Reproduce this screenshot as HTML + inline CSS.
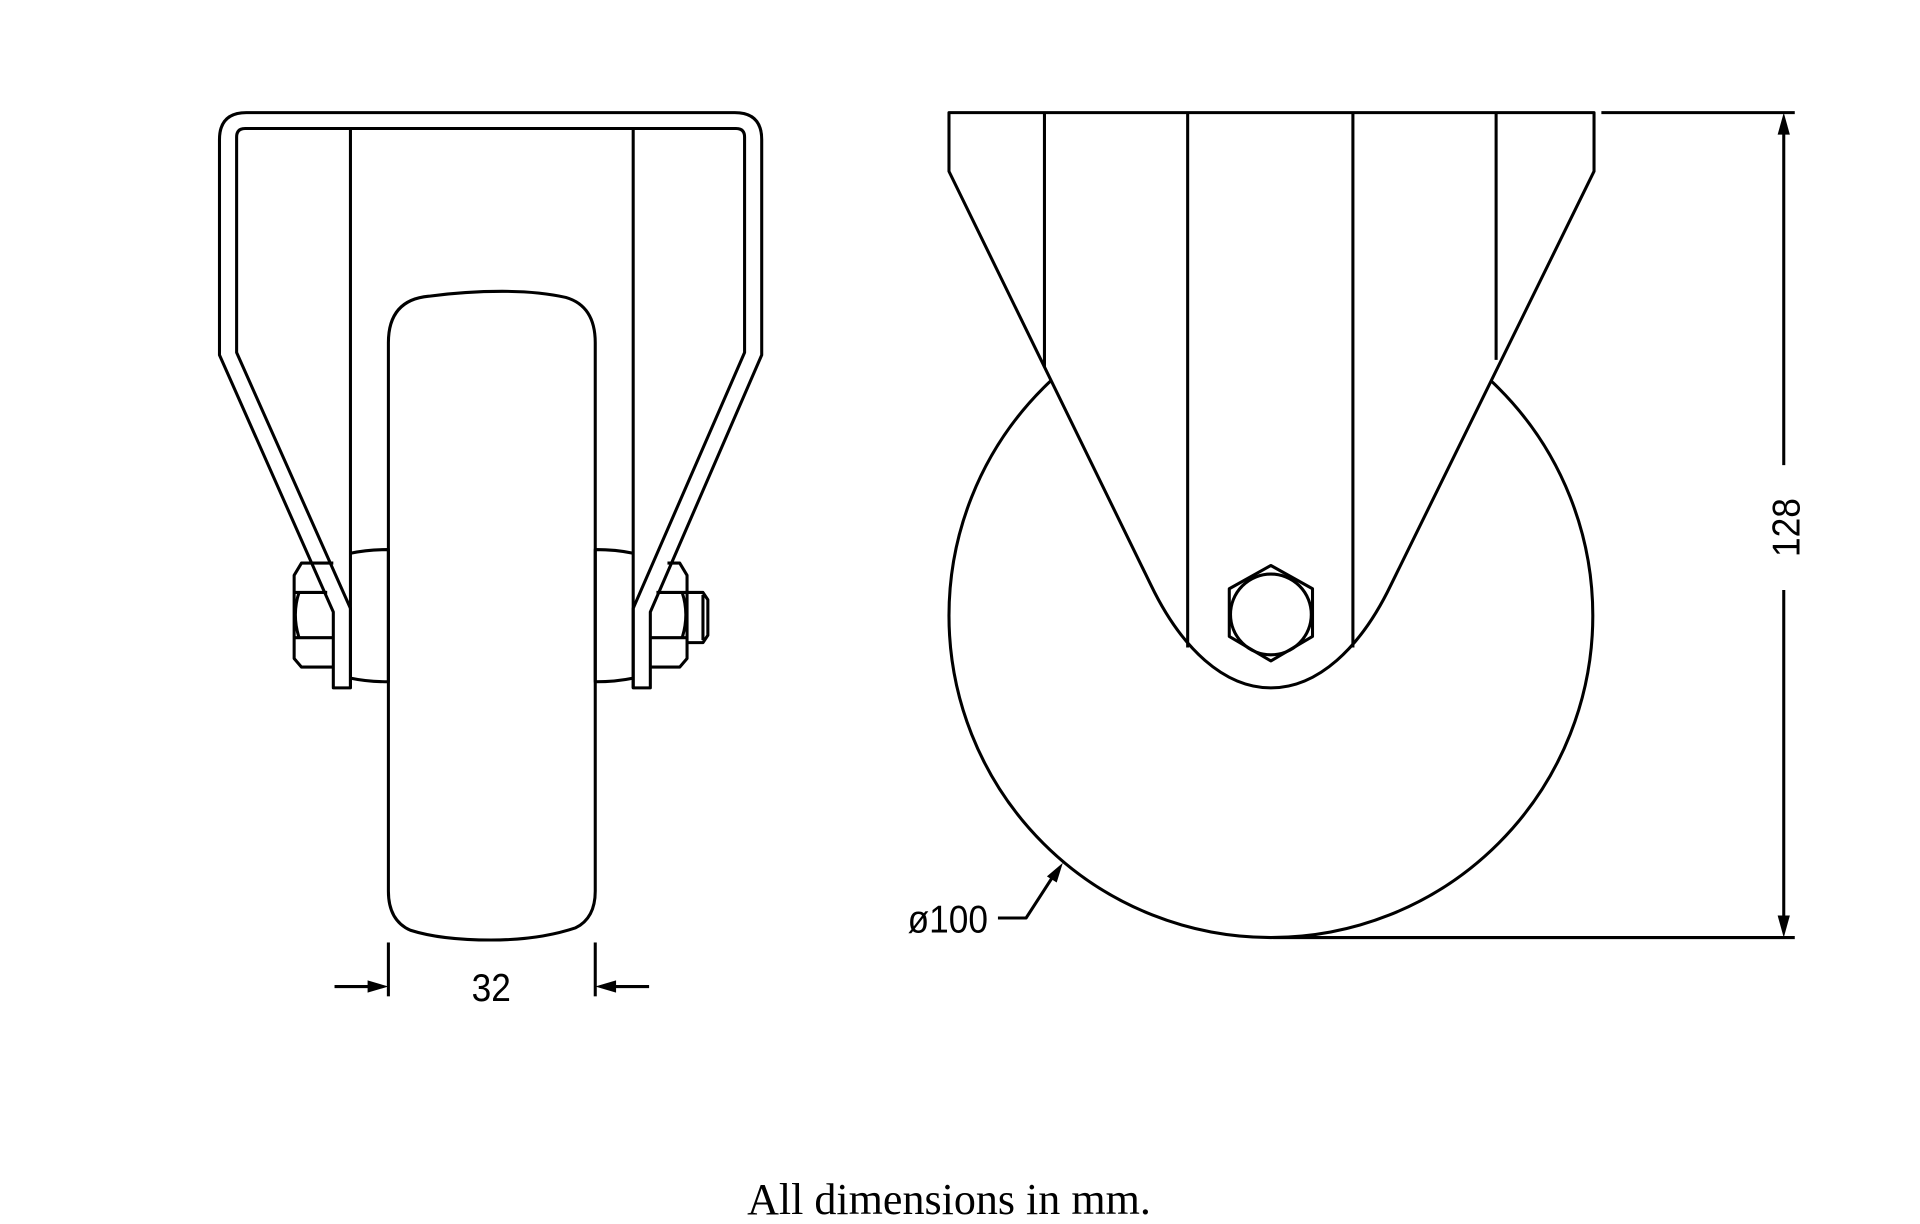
<!DOCTYPE html>
<html><head><meta charset="utf-8"><style>
html,body{margin:0;padding:0;background:#fff;}
svg{display:block;}
</style></head><body>
<svg width="1920" height="1224" viewBox="0 0 1568 1000" xmlns="http://www.w3.org/2000/svg">
<rect width="1568" height="1000" fill="#fff"/>
<g fill="none" stroke="#000" stroke-width="2.5" stroke-linejoin="round">
<path d="M317,280 Q317,245 350,242 Q380,238 410,238 Q440,238 462,243 Q486,250 486,280 L486,728 Q486,750 470,758 Q440,768 401,768 Q360,768 335,760 Q317,752 317,728 Z" fill="#fff"/>
<path d="M272,562 L272,500 L179,290 L179,114 Q179,92 201,92 L600,92 Q622,92 622,114 L622,290 L531,500 L531,562 L517,562 L517,497 L608,288 L608,112 Q608,105 601,105 L200,105 Q193,105 193,112 L193,288 L286,497 L286,562 Z" fill="#fff"/>
<line x1="286" y1="106" x2="286" y2="562"/>
<line x1="517" y1="106" x2="517" y2="562"/>
<path d="M286,452 Q300,449 317,449 L317,557 Q300,557 286,554"/>
<path d="M517,452 Q503,449 486,449 L486,557 Q503,557 517,554"/>
<path d="M272,460 L246,460 L240,470 L240,538 L246,545 L272,545"/>
<line x1="240" y1="484" x2="267" y2="484"/>
<line x1="240" y1="521" x2="272" y2="521"/>
<path d="M244,484 Q238,502 244,521"/>
<path d="M545,460 L555,460 L561,470 L561,538 L555,545 L531,545"/>
<line x1="536" y1="484" x2="561" y2="484"/>
<line x1="531" y1="521" x2="561" y2="521"/>
<path d="M557,484 Q563,502 557,521"/>
<path d="M561,484 L574,484 L578,490 L578,519 L574,525 L561,525"/>
<line x1="574" y1="486" x2="574" y2="523"/>
<line x1="317" y1="770" x2="317" y2="814"/>
<line x1="486" y1="770" x2="486" y2="814"/>
<line x1="273" y1="806" x2="305" y2="806"/>
<line x1="498" y1="806" x2="530" y2="806"/>
<circle cx="1038" cy="503" r="263" fill="#fff"/>
<path d="M775,92 L775,140 L940,478 C965,530 1000,562 1038,562 C1076,562 1111,530 1136,478 L1302,140 L1302,92 Z" fill="#fff"/>
<line x1="853" y1="92" x2="853" y2="300"/>
<line x1="1222" y1="92" x2="1222" y2="294"/>
<line x1="970" y1="92" x2="970" y2="529"/>
<line x1="1105" y1="92" x2="1105" y2="529"/>
<polygon points="1038,462 1072,481 1072,520 1038,540 1004,520 1004,481"/>
<circle cx="1038" cy="502" r="33"/>
<line x1="1308" y1="92" x2="1466" y2="92"/>
<line x1="1040" y1="766" x2="1466" y2="766"/>
<line x1="1457" y1="104" x2="1457" y2="380"/>
<line x1="1457" y1="482" x2="1457" y2="754"/>
<polyline points="815,750 838,750 860,716"/>
</g>
<g fill="#000">
<polygon points="317,806 300,801 300,811"/>
<polygon points="486,806 503,801 503,811"/>
<polygon points="1457,92 1452,110 1462,110"/>
<polygon points="1457,766 1452,748 1462,748"/>
<polygon points="868,705 855,716 863,721"/>
</g>
<g font-family="Liberation Sans, sans-serif" font-size="32" fill="#000">
<text x="401" y="818" text-anchor="middle" transform="translate(401 0) scale(0.9 1) translate(-401 0)">32</text>
<text x="774" y="762" text-anchor="middle" transform="translate(774 0) scale(0.9 1) translate(-774 0)">ø100</text>
<text transform="translate(1470 431) rotate(-90) scale(0.9 1)" text-anchor="middle" x="0" y="0">128</text>
</g>
<text x="775" y="992" text-anchor="middle" font-family="Liberation Serif, serif" font-size="36" fill="#000">All dimensions in mm.</text>
</svg>
</body></html>
